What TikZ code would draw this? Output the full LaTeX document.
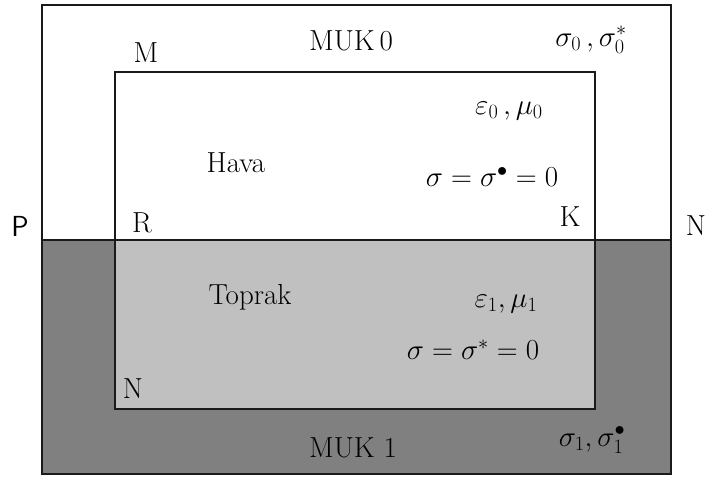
\RequirePackage{fix-cm}
\documentclass[tikz,border=0pt]{standalone}
\definecolor{darkfill}{HTML}{808080}
\definecolor{lightfill}{HTML}{C0C0C0}
\definecolor{edge}{HTML}{1A1A1A}
\begin{document}
\begin{tikzpicture}[x=1pt,y=-1pt,
  lbl/.style={inner sep=0pt,font=\fontsize{29}{34}\selectfont},
  border/.style={draw=edge,line width=1.6pt}]
\useasboundingbox (0,0) rectangle (708,476);
% outer and inner corners
\coordinate (OTL) at (42,5);
\coordinate (OBR) at (671,474);
\coordinate (OML) at (42,240);
\coordinate (OMR) at (671,240);
\coordinate (ITL) at (115,72);
\coordinate (IBR) at (595,409);
\coordinate (IML) at (115,240);
\coordinate (IMR) at (595,240);
% fills
\fill[darkfill] (OML) rectangle (OBR);
\fill[lightfill] (IML) rectangle (IBR);
% borders
\draw[border] (OTL) rectangle (OBR);
\draw[border] (ITL) rectangle (IBR);
\draw[border] (OML) -- (OMR);
% labels
\node[lbl] (m) at (146,53) {M};
\node[lbl] (muk0) at (351,41) {MUK\,0};
\node[lbl] (s0) at (591,40) {$\sigma_0\,,\sigma_0^{*}$};
\node[lbl] (e0) at (509,111) {$\varepsilon_0\,,\mu_0$};
\node[lbl] (hava) at (236,163) {Hava};
\node[lbl] (eqa) at (492,177) {$\sigma=\sigma^{\bullet}=0$};
\node[lbl] (r) at (142,223) {R};
\node[lbl] (k) at (570,217) {K};
\node[lbl,font=\fontsize{29}{34}\selectfont\sffamily] (p) at (20,226) {P};
\node[lbl] (nr) at (696,226) {N};
\node[lbl] (toprak) at (250,297) {Toprak};
\node[lbl] (e1) at (506,304) {$\varepsilon_1,\mu_1$};
\node[lbl] (eqb) at (473,350) {$\sigma=\sigma^{*}=0$};
\node[lbl] (nl) at (133,389) {N};
\node[lbl] (muk1) at (353,448) {MUK 1};
\node[lbl] (s1) at (592,440) {$\sigma_1,\sigma_1^{\bullet}$};
\end{tikzpicture}
\end{document}
